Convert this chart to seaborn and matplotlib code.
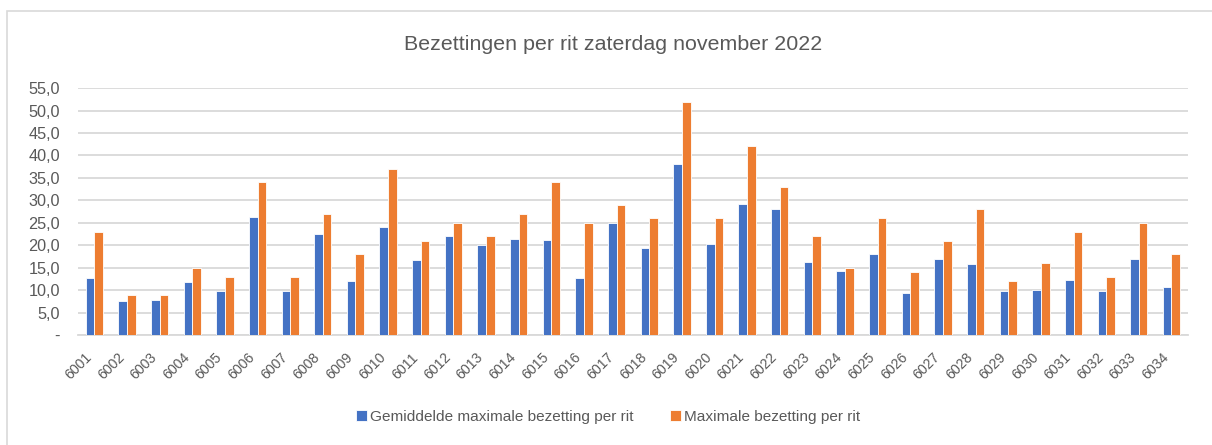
import pandas as pd
import matplotlib.pyplot as plt
import seaborn as sns
from matplotlib.patches import Rectangle
from matplotlib.ticker import FuncFormatter

ritten = [str(r) for r in range(6001, 6035)]
gemiddeld = [12.7, 7.5, 7.8, 11.8, 9.8, 26.2, 9.8, 22.5, 12.0, 24.0,
             16.7, 22.0, 20.0, 21.4, 21.2, 12.7, 25.0, 19.3, 38.2, 20.3,
             29.2, 28.0, 16.3, 14.3, 18.0, 9.3, 17.0, 15.8, 9.8, 10.0,
             12.3, 9.8, 17.0, 10.7]
maximaal = [23, 9, 9, 15, 13, 34, 13, 27, 18, 37,
            21, 25, 22, 27, 34, 25, 29, 26, 52, 26,
            42, 33, 22, 15, 26, 14, 21, 28, 12, 16,
            23, 13, 25, 18]
series = ["Gemiddelde maximale bezetting per rit", "Maximale bezetting per rit"]
kleuren = ["#4472C4", "#ED7D31"]
y_ticks = [0, 5, 10, 15, 20, 25, 30, 35, 40, 45, 50, 55]

df = pd.DataFrame({"Rit": ritten * 2,
                   "Bezetting": gemiddeld + maximaal,
                   "Serie": [series[0]] * len(ritten) + [series[1]] * len(ritten)})

sns.set_theme(style="white")
plt.rcParams['font.family'] = ['Liberation Sans', 'DejaVu Sans']
grijs = "#595959"
lijn = "#D9D9D9"

fig = plt.figure(figsize=(12.12, 4.45), dpi=100)
ax = fig.add_axes([0.0644, 0.247, 0.9156, 0.555])

sns.barplot(data=df, x="Rit", y="Bezetting", hue="Serie", palette=kleuren,
            saturation=1, width=0.53, edgecolor="white", linewidth=0.6,
            ax=ax, zorder=3)

ax.set_ylim(0, 55)
ax.set_yticks(y_ticks)
ax.yaxis.set_major_formatter(FuncFormatter(
    lambda v, p: "-" if v == 0 else f"{v:.1f}".replace(".", ",")))
ax.grid(axis="y", color=lijn, linewidth=1.3, zorder=0)
ax.set_axisbelow(True)
for s in ["top", "left", "right"]:
    ax.spines[s].set_visible(False)
ax.spines["bottom"].set_color(lijn)
ax.spines["bottom"].set_linewidth(1.3)
ax.tick_params(axis="both", length=0, colors=grijs)
ax.tick_params(axis="y", pad=13, labelsize=11.7)
ax.tick_params(axis="x", pad=11, labelsize=10.2)
plt.setp(ax.get_xticklabels(), rotation=45, ha="right")
ax.set_xlabel("")
ax.set_ylabel("")
ax.set_xlim(-0.5, len(ritten) - 0.5)

fig.text(0.506, 0.899, "Bezettingen per rit zaterdag november 2022",
         ha="center", va="center", fontsize=15.4, color=grijs)

ax.legend(loc="center", bbox_to_anchor=(0.4775, -0.332), ncol=2, frameon=False,
          fontsize=11.1, labelcolor=grijs, handlelength=0.7, handleheight=0.7,
          handletextpad=0.2, columnspacing=2.4, title=None)

fig.add_artist(Rectangle((0.0058, -0.02), 1.1, 0.995, transform=fig.transFigure,
                         fill=False, edgecolor=lijn, linewidth=1.2))

fig.savefig("out.png", dpi=100)
